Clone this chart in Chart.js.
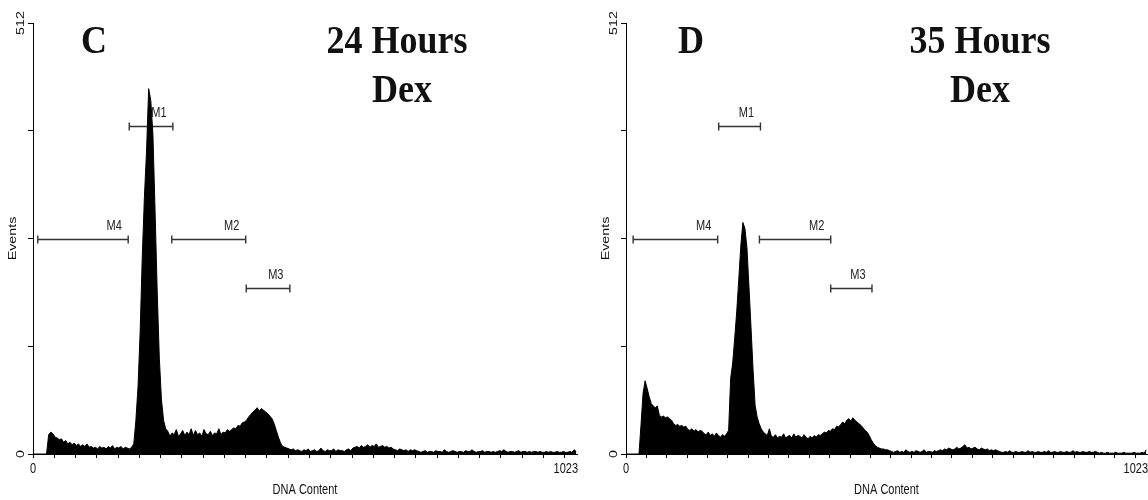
<!DOCTYPE html>
<html>
<head>
<meta charset="utf-8">
<title>DNA Content histograms</title>
<script src="https://cdn.jsdelivr.net/npm/chart.js@4.4.1/dist/chart.umd.min.js"></script>
<style>
  html, body { margin: 0; padding: 0; background: #fff; }
  body { width: 1148px; height: 500px; position: relative; overflow: hidden; }
  .panel { position: absolute; top: 0; height: 500px; }
</style>
</head>
<body>
<div class="panel" style="left:0;width:580px"><canvas id="chartC"></canvas></div>
<div class="panel" style="left:593px;width:555px"><canvas id="chartD"></canvas></div>
<script>
// histogram counts, 4 channels per bin (256 bins over 0..1023)
const BIN = 4;

const countsC = [
  0, 0, 0, 0, 0, 0, 0, 23,
  26, 24, 20, 19, 17, 18, 14, 16, 12, 14, 11, 13, 10, 12, 9, 11, 9, 12,
  8, 9, 7, 8, 6, 9, 7, 8, 6, 9, 7, 10, 6, 8, 7, 9, 6, 8, 7, 6, 8,
  12,
  40, 80, 145, 235, 305, 360, 434, 420, 380, 290, 195, 115, 65, 40, 30,
  27, 21, 25, 23, 29, 21, 24, 28, 22, 26, 23, 30, 22, 28, 23,
  25, 21, 29, 24, 23, 27, 22, 25, 24, 30, 23, 26, 25, 29, 27,
  29, 31, 30, 34, 33, 37, 38, 40, 44, 47, 50, 52, 55, 51, 54, 52,
  50, 48, 45, 42, 36, 28, 20, 13, 9, 8, 7, 6, 5, 6, 4, 5,
  4, 3, 5, 4, 6, 3, 4, 5, 3, 4, 7, 4, 3, 5, 4, 4, 6, 3, 5, 4, 4, 3, 5, 6, 4,
  7, 8, 9, 7, 10, 8, 9, 11, 8, 10, 9, 12, 8, 9, 10, 8, 9, 7, 8, 6,
  5, 4, 6, 5, 4, 5, 3, 5, 4, 5, 4,
  3, 2, 3, 4, 2, 3, 3, 2, 4, 3, 3, 2, 5, 3, 2,
  3, 4, 3, 2, 3, 3, 2, 4, 3, 3, 5, 3, 2, 3, 3,
  4, 2, 3, 3, 2, 3, 2, 3, 4, 3, 5, 3, 2, 3, 3,
  2, 3, 4, 2, 3, 3, 2, 3, 2, 3, 3, 2, 3, 2, 2,
  3, 2, 3, 2, 2, 3, 2, 2, 3, 2, 2, 3, 2, 5, 3
];

const countsD = [
  0, 0, 0, 0, 0, 0, 0, 35,
  72, 87, 78, 68, 60, 57, 55, 57, 46, 44, 45, 43, 44, 42, 40, 36, 34, 35, 33,
  34, 32, 33, 29, 28, 30, 27, 29, 26, 28, 27, 24, 23, 26, 22, 24, 21, 25, 22,
  20, 23, 21, 24,
  28, 90, 108, 138, 170, 208, 248, 275, 268, 245, 198, 150, 100, 58, 44, 36,
  30, 26, 24, 22, 30, 21, 20, 23, 19, 21, 20, 24, 19, 21, 22,
  19, 24, 20, 22, 21, 19, 23, 20, 18, 21, 19, 22, 20, 23, 22,
  24, 26, 25, 28, 27, 30, 29, 33, 32, 35, 38, 36, 40, 42, 39, 43, 40,
  38, 36, 34, 31, 28, 26, 22, 17, 13, 10, 8, 7, 6, 6, 5, 5, 4,
  3, 2, 3, 4, 2, 3, 2, 5, 3, 2, 3, 2, 4, 3, 2, 3, 5, 2, 3, 3, 2, 4, 3,
  4, 5, 4, 6, 5, 7, 6, 5, 6, 8, 6, 7, 9, 11, 7, 8, 6, 7, 8, 6, 5, 7, 6, 5, 6, 4, 5, 4, 5, 4,
  3, 2, 2, 3, 2, 4, 2, 2, 3, 2,
  2, 3, 2, 2, 4, 2, 3, 2, 2, 3,
  2, 2, 3, 2, 4, 2, 2, 3, 2, 2,
  3, 2, 2, 3, 2, 2, 4, 2, 3, 2,
  2, 3, 2, 2, 3, 2, 2, 3, 2,
  1, 2, 1, 1, 2, 1, 1, 1, 2, 1, 1, 1, 2, 1, 1, 1, 1, 2, 1, 1, 1, 2, 1, 5
];

// gate markers (channel ranges) and the event level each bar sits at
const markerNames = ["M1", "M2", "M3", "M4"];
const markerLevels = [390, 256, 197, 256];
const markerStartC = [181, 261, 401, 9];
const markerEndC = [263, 400, 483, 179];
const markerStartD = [182, 262, 402, 14];
const markerEndD = [264, 402, 483, 180];

// axis labels
const xTickLabels = [0, 1023];
const yTickLabels = [0, 512];
const xTitle = "DNA Content";
const yTitle = "Events";

const SMALL_FONT = '11px "Liberation Sans", Arial, sans-serif';
const BIG_FONT = 'bold 36px "Liberation Serif", "Times New Roman", serif';

function toPoints(counts) {
  return counts.map((v, i) => ({ x: i * BIN + 1.5, y: v }));
}

// text drawn slightly stretched vertically, like the scanned figure
function stretchedText(ctx, text, x, y, opts) {
  ctx.save();
  ctx.translate(x, y);
  ctx.scale(1, opts.sy || 1.3);
  if (opts.rotate) ctx.rotate(-Math.PI / 2);
  ctx.font = opts.font || SMALL_FONT;
  ctx.fillStyle = opts.color || "#111";
  ctx.textAlign = opts.align || "center";
  ctx.textBaseline = opts.baseline || "middle";
  ctx.fillText(text, 0, 0);
  ctx.restore();
}

function panelPlugin(panel) {
  return {
    id: "panelDecor",
    beforeDatasetsDraw(chart) {
      const { ctx, scales: { x, y } } = chart;
      ctx.save();
      ctx.strokeStyle = "#333";
      ctx.lineWidth = 1.4;
      markerNames.forEach((name, i) => {
        const x1 = x.getPixelForValue(panel.starts[i]);
        const x2 = x.getPixelForValue(panel.ends[i]);
        const py = Math.round(y.getPixelForValue(markerLevels[i])) + 0.5;
        ctx.beginPath();
        ctx.moveTo(x1, py);
        ctx.lineTo(x2, py);
        ctx.moveTo(x1, py - 4);
        ctx.lineTo(x1, py + 4);
        ctx.moveTo(x2, py - 4);
        ctx.lineTo(x2, py + 4);
        ctx.stroke();
        stretchedText(ctx, name, x2 - 14, py - 13, { color: "#222" });
      });
      ctx.restore();
    },
    afterDraw(chart) {
      const { ctx, chartArea, scales: { x, y } } = chart;
      yTickLabels.forEach((v) => {
        stretchedText(ctx, String(v), chartArea.left - 12, y.getPixelForValue(v), { rotate: true });
      });
      xTickLabels.forEach((v, i) => {
        const last = i === xTickLabels.length - 1;
        stretchedText(ctx, String(v), x.getPixelForValue(v) + (last ? 1 : 0), chartArea.bottom + 15, {
          align: last ? "right" : "center"
        });
      });
      stretchedText(ctx, yTitle, chartArea.left - 20, (chartArea.top + chartArea.bottom) / 2, { rotate: true });
      stretchedText(ctx, xTitle, (chartArea.left + chartArea.right) / 2, chartArea.bottom + 36, {});

      // panel letter and time point
      const big = { font: BIG_FONT, sy: 1.1, color: "#111", baseline: "alphabetic" };
      stretchedText(ctx, panel.letter, panel.letterX, 53, big);
      stretchedText(ctx, panel.hours, panel.hoursX, 53, big);
      stretchedText(ctx, "Dex", panel.dexX, 102, big);
    }
  };
}

function makeChart(id, counts, panel) {
  return new Chart(document.getElementById(id), {
    type: "line",
    data: {
      datasets: [
        {
          data: toPoints(counts),
          borderColor: "#000",
          borderWidth: 1,
          backgroundColor: "#000",
          fill: "origin",
          pointRadius: 0,
          tension: 0,
        },
      ],
    },
    options: {
      responsive: true,
      maintainAspectRatio: false,
      animation: false,
      events: [],
      layout: { padding: { top: 23, right: panel.padRight, left: 0, bottom: 0 } },
      plugins: { legend: { display: false }, tooltip: { enabled: false } },
      scales: {
        x: {
          type: "linear",
          min: 0,
          max: 1023,
          ticks: { display: false, stepSize: 40, autoSkip: false, includeBounds: false },
          grid: { drawOnChartArea: false, tickLength: 4, color: "#000", tickColor: "#000" },
          border: { color: "#000", width: 1 },
          afterFit(scale) { scale.height = 46; },
        },
        y: {
          min: 0,
          max: 512,
          ticks: { display: false, stepSize: 128 },
          grid: { drawOnChartArea: false, tickLength: 5, color: "#000", tickColor: "#000" },
          border: { color: "#000", width: 1 },
          afterFit(scale) { scale.width = 33; },
        },
      },
    },
    plugins: [panelPlugin(panel)],
  });
}

makeChart("chartC", countsC, {
  starts: markerStartC, ends: markerEndC, padRight: 3,
  letter: "C", letterX: 94, hours: "24 Hours", hoursX: 397, dexX: 402
});
makeChart("chartD", countsD, {
  starts: markerStartD, ends: markerEndD, padRight: 1,
  letter: "D", letterX: 98, hours: "35 Hours", hoursX: 387, dexX: 387
});
</script>
</body>
</html>
